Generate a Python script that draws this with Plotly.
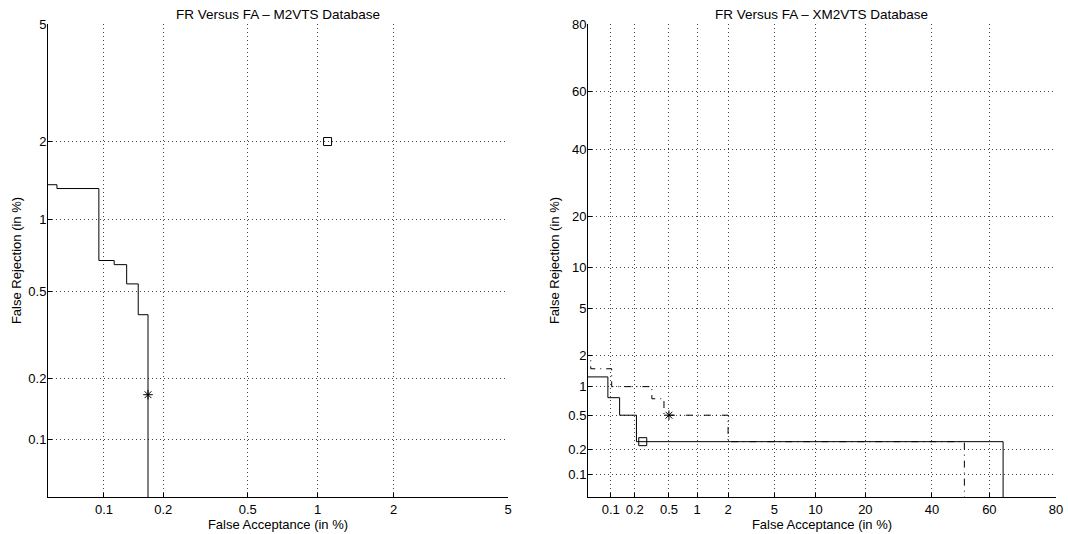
import plotly.graph_objects as go
from statistics import NormalDist

ND = NormalDist()

def probit(p):
    return ND.inv_cdf(p / 100.0)

# ---------------- data (percent) ----------------
# Left panel: M2VTS
m2_fa_drops = [0.04, 0.056, 0.094, 0.113, 0.131, 0.150, 0.168]
m2_fr_levels = [1.376, 1.33, 0.68, 0.653, 0.54, 0.395, 0.001]
m2_star = (0.168, 0.167)
m2_square = (1.10, 2.0)

# Right panel: XM2VTS
xm_solid_fa_drops = [0.04, 0.092, 0.13, 0.21, 64.6]
xm_solid_fr_levels = [1.25, 0.77, 0.50, 0.25, 0.001]
xm_dash_fa_drops = [0.04, 0.0545, 0.103, 0.32, 0.44, 2.0, 51.3]
xm_dash_fr_levels = [1.82, 1.50, 1.0, 0.75, 0.5, 0.25, 0.001]
xm_star = (0.5, 0.5)
xm_square = (0.25, 0.25)

left_ticks = [0.1, 0.2, 0.5, 1, 2, 5]
right_ticks = [0.1, 0.2, 0.5, 1, 2, 5, 10, 20, 40, 60, 80]
left_range = (0.05, 5)
right_range = (0.05, 80)

titles = ["FR Versus FA \u2013 M2VTS Database", "FR Versus FA \u2013 XM2VTS Database"]
xlabel = "False Acceptance (in %)"
ylabel = "False Rejection (in %)"


def step_path(drops, levels, top, right):
    xs = [drops[0]]
    ys = [top]
    for i, (d, lv) in enumerate(zip(drops, levels)):
        xs.append(d)
        ys.append(lv)
        nxt = drops[i + 1] if i + 1 < len(drops) else right
        xs.append(nxt)
        ys.append(lv)
    return [probit(v) for v in xs], [probit(v) for v in ys]


def fmt(v):
    return ("%g" % v)


fig = go.Figure()

def marker_trace(pt, symbol, xa, ya):
    return go.Scatter(x=[probit(pt[0])], y=[probit(pt[1])], mode="markers",
                      marker=dict(symbol=symbol, size=8, color="black",
                                  line=dict(color="black", width=1)),
                      xaxis=xa, yaxis=ya, showlegend=False, hoverinfo="skip")

# left curves
x, y = step_path(m2_fa_drops, m2_fr_levels, 50, 40)
fig.add_trace(go.Scatter(x=x, y=y, mode="lines", line=dict(color="black", width=1),
                         xaxis="x", yaxis="y", showlegend=False, hoverinfo="skip"))
fig.add_trace(marker_trace(m2_star, "asterisk-open", "x", "y"))
fig.add_trace(marker_trace(m2_square, "square-open", "x", "y"))

# right curves
x, y = step_path(xm_solid_fa_drops, xm_solid_fr_levels, 99, 99.9)
fig.add_trace(go.Scatter(x=x, y=y, mode="lines", line=dict(color="black", width=1),
                         xaxis="x2", yaxis="y2", showlegend=False, hoverinfo="skip"))
x, y = step_path(xm_dash_fa_drops, xm_dash_fr_levels, 99, 99.9)
fig.add_trace(go.Scatter(x=x, y=y, mode="lines",
                         line=dict(color="black", width=1, dash="7px,5px,1px,5px"),
                         xaxis="x2", yaxis="y2", showlegend=False, hoverinfo="skip"))
fig.add_trace(marker_trace(xm_star, "asterisk-open", "x2", "y2"))
fig.add_trace(marker_trace(xm_square, "square-open", "x2", "y2"))

W, H = 1068, 534
L, R, T, B = 48, 1056, 24, 497
pw = R - L
dom_y = [0, 1]
dom_x1 = [0, 460 / pw]
dom_x2 = [540 / pw, 1]

font = dict(family="Liberation Sans, Arial, sans-serif", size=13, color="black")


def axis(ticks, rng, domain, anchor, title, standoff, lblstandoff=0):
    return dict(
        domain=domain, anchor=anchor, automargin=False,
        range=[probit(rng[0]), probit(rng[1])],
        tickmode="array", tickvals=[probit(t) for t in ticks], ticktext=[fmt(t) for t in ticks],
        showgrid=True, gridcolor="#444", gridwidth=1, griddash="1px,3px",
        zeroline=False, showline=True, linecolor="black", linewidth=1,
        ticks="inside", ticklen=4, tickcolor="black", ticklabelstandoff=lblstandoff,
        tickfont=dict(size=13), title=dict(text=title, font=dict(size=13), standoff=standoff),
        fixedrange=True,
    )

layout = dict(
    width=W, height=H, margin=dict(l=L, r=W - R, t=T, b=H - B, autoexpand=False),
    paper_bgcolor="white", plot_bgcolor="white", font=font,
    xaxis=axis(left_ticks, left_range, dom_x1, "y", xlabel, 4),
    yaxis=axis(left_ticks, left_range, dom_y, "x", ylabel, 3, -2),
    xaxis2=axis(right_ticks, right_range, dom_x2, "y2", xlabel, 4),
    yaxis2=axis(right_ticks, right_range, dom_y, "x2", ylabel, 5, -2),
    annotations=[
        dict(text=titles[0], x=(dom_x1[0] + dom_x1[1]) / 2, y=1, xref="paper", yref="paper",
             xanchor="center", yanchor="bottom", showarrow=False, font=dict(size=13.5), yshift=0),
        dict(text=titles[1], x=(dom_x2[0] + dom_x2[1]) / 2, y=1, xref="paper", yref="paper",
             xanchor="center", yanchor="bottom", showarrow=False, font=dict(size=13.5), yshift=0),
    ],
)
fig.update_layout(**layout)
fig.write_html("out.html", config={"displayModeBar": False},
               post_script="document.body.style.margin='0';document.body.style.overflow='hidden';")
